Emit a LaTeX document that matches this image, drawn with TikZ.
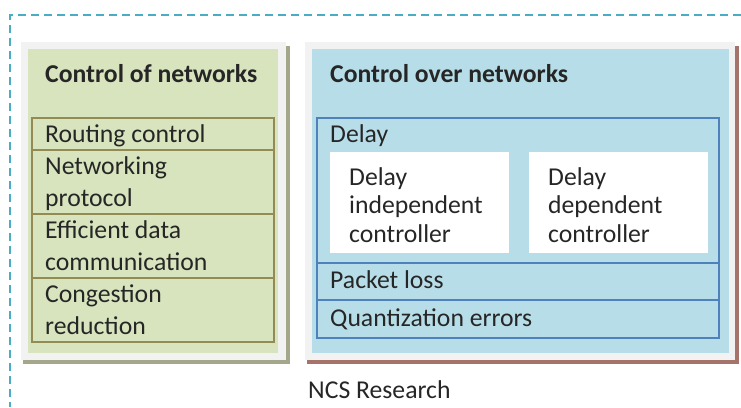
\documentclass[tikz,border=0pt]{standalone}
\usepackage{fontspec}
\setmainfont{Carlito}
\usepackage{xcolor}
\definecolor{ncsDash}{HTML}{4BACC6}
\definecolor{ncsFrame}{HTML}{F2F2F2}
\definecolor{ncsGreen}{HTML}{D7E4BD}
\definecolor{ncsOlive}{HTML}{948A54}
\definecolor{ncsOliveShadow}{HTML}{A4A78A}
\definecolor{ncsBlue}{HTML}{B7DEE8}
\definecolor{ncsBlueLine}{HTML}{4F81BD}
\definecolor{ncsBrownShadow}{HTML}{A6736A}
\definecolor{ncsText}{HTML}{262626}

\begin{document}
\begin{tikzpicture}[x=1pt, y=-1pt,
  txt/.style={anchor=base west, inner sep=0pt, text=ncsText, align=left,
    font=\fontsize{25.7}{31.5}\selectfont},
  subtxt/.style={txt, font=\fontsize{25.7}{28.5}\selectfont},
  head/.style={txt, font=\fontsize{25.7}{32}\selectfont\bfseries}]
  \useasboundingbox (0,0) rectangle (741,407);
  \draw[ncsDash, line width=2pt, dash pattern=on 8pt off 5pt] (741,15) -- (10,15) -- (10,407);

  % control of networks (anchored at the last line of each cell)
  \fill[ncsOliveShadow] (23,46) rectangle (290,364);
  \fill[ncsFrame] (21,42) rectangle (286,360);
  \fill[ncsGreen] (28,49) rectangle (278,353);
  \node[head] (titleOf) at (45,82) {Control of networks};
  \draw[ncsOlive, line width=2pt] (32,118) rectangle (274,342);
  \draw[ncsOlive, line width=2pt] (32,150) -- (274,150);
  \draw[ncsOlive, line width=2pt] (32,214) -- (274,214);
  \draw[ncsOlive, line width=2pt] (32,278) -- (274,278);
  \node[txt] (routing) at (45,142) {Routing control};
  \node[txt] (protocol) at (45,206) {Networking\\protocol};
  \node[txt] (efficient) at (45,270) {Efficient data\\communication};
  \node[txt] (congestion) at (45,334) {Congestion\\reduction};

  % control over networks
  \fill[ncsBrownShadow] (307,46) rectangle (739,364);
  \fill[ncsFrame] (305,42) rectangle (735,360);
  \fill[ncsBlue] (312,49) rectangle (729,353);
  \node[head] (titleOver) at (330,82) {Control over networks};
  \draw[ncsBlueLine, line width=2pt] (317,118) rectangle (719,338);
  \draw[ncsBlueLine, line width=2pt] (317,263) -- (719,263);
  \draw[ncsBlueLine, line width=2pt] (317,300) -- (719,300);
  \node[txt] (delay) at (330,142) {Delay};
  \fill[white] (330,152) rectangle (509,253);
  \fill[white] (529,152) rectangle (708,253);
  \node[subtxt] (indep) at (349,242) {Delay\\independent\\controller};
  \node[subtxt] (dep) at (548,242) {Delay\\dependent\\controller};
  \node[txt] (loss) at (330,288) {Packet loss};
  \node[txt] (quant) at (330,326) {Quantization errors};

  \node[txt] (research) at (308,398) {NCS Research};
\end{tikzpicture}
\end{document}
